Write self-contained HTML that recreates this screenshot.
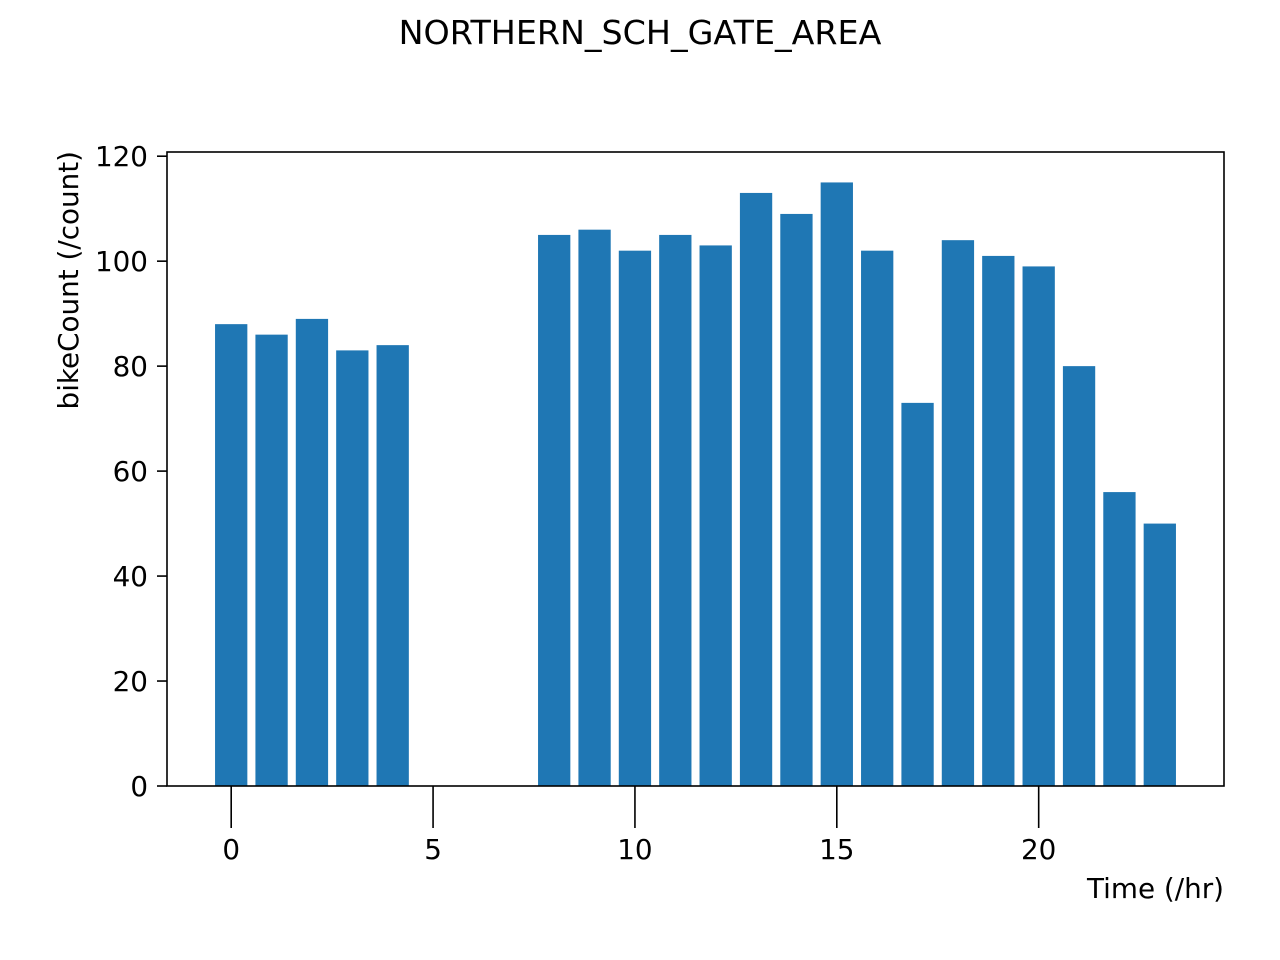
<!DOCTYPE html>
<html><head><meta charset="utf-8"><style>
body{margin:0;background:#fff;}
svg{display:block;font-family:"DejaVu Sans","Liberation Sans",sans-serif;}
</style></head><body>
<svg id="chart" width="1280" height="960">
<rect width="1280" height="960" fill="#fff"/>
<text x="640" y="44" text-anchor="middle" font-size="33.3">NORTHERN_SCH_GATE_AREA</text>
<g id="bars"></g>
<g id="axes"></g>
<text x="1224" y="898" text-anchor="end" font-size="27.8">Time (/hr)</text>
<text transform="translate(78,151) rotate(-90)" text-anchor="end" font-size="27.8">bikeCount (/count)</text>
</svg>
<script>
const hours=[0,1,2,3,4,8,9,10,11,12,13,14,15,16,17,18,19,20,21,22,23];
const counts=[88,86,89,83,84,105,106,102,105,103,113,109,115,102,73,104,101,99,80,56,50];
const xTicks=[0,5,10,15,20];
const yTicks=[0,20,40,60,80,100,120];
const L=167,R=1224,T=152,B=786;
const xMin=-1.59,xMax=24.59,yMin=0,yMax=120.8;
const sx=v=>L+(v-xMin)/(xMax-xMin)*(R-L);
const sy=v=>B-(v-yMin)/(yMax-yMin)*(B-T);
const NS="http://www.w3.org/2000/svg";
const bars=document.getElementById('bars'),axes=document.getElementById('axes');
function mk(tag,attrs,parent){const e=document.createElementNS(NS,tag);for(const k in attrs)e.setAttribute(k,attrs[k]);parent.appendChild(e);return e;}
hours.forEach((h,i)=>{
  const x0=sx(h-0.4),x1=sx(h+0.4),y=sy(counts[i]);
  const r=mk('rect',{x:x0,y:y,width:x1-x0,height:B-y,fill:'#1f77b4'},bars);
  
  
});
const f=mk('rect',{x:L,y:T,width:R-L,height:B-T,fill:'none',stroke:'#000','stroke-width':1.6},axes);


xTicks.forEach(t=>{
  const x=sx(t);
  const l=mk('line',{x1:x,x2:x,y1:B,y2:B+42,stroke:'#000','stroke-width':1.6},axes);
  
  
  const tx=mk('text',{x:x,y:859,'text-anchor':'middle','font-size':27.8},axes);
  tx.textContent=t;
  
  
});
yTicks.forEach(t=>{
  const y=sy(t);
  const l=mk('line',{x1:L-10,x2:L,y1:y,y2:y,stroke:'#000','stroke-width':1.6},axes);
  
  
  const tx=mk('text',{x:L-19,y:y+10,'text-anchor':'end','font-size':27.8},axes);
  tx.textContent=t;
  
  
});
</script>
</body></html>
